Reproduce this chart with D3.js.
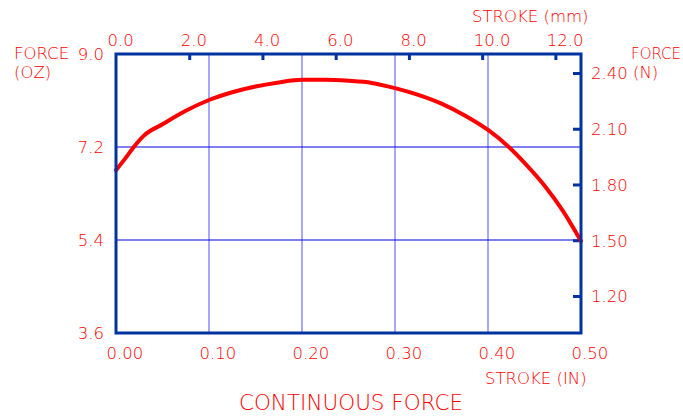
<!DOCTYPE html>
<html>
<head>
<meta charset="utf-8">
<script src="https://cdn.jsdelivr.net/npm/d3@7"></script>
<style>
  body { margin: 0; background: #fff; }
  text { font-family: "DejaVu Sans", sans-serif; font-weight: 200; fill: #ff0000; }
</style>
</head>
<body>
<div id="chart"></div>
<script>
// stroke (in) vs force (oz)
var strokeIn = [0.00, 0.01, 0.02, 0.03, 0.05, 0.075, 0.10, 0.125, 0.15, 0.175, 0.20, 0.225, 0.25,
                0.275, 0.30, 0.325, 0.35, 0.375, 0.40, 0.42, 0.44, 0.46, 0.48, 0.50];
var forceOz = [6.75, 6.98, 7.22, 7.42, 7.64, 7.90, 8.11, 8.26, 8.37, 8.45, 8.50, 8.50, 8.48,
               8.44, 8.34, 8.21, 8.04, 7.81, 7.53, 7.24, 6.88, 6.47, 5.98, 5.38];

var inTicks = [0.00, 0.10, 0.20, 0.30, 0.40, 0.50];
var mmTicks = [0, 2, 4, 6, 8, 10, 12];
var ozTicks = [3.6, 5.4, 7.2, 9.0];
var nTicks = [1.20, 1.50, 1.80, 2.10, 2.40];

var svgWidth = 683;
var svgHeight = 416;
var fontSize = "16.5px";

var margin = { top: 54, right: 102, bottom: 83, left: 116 };
var width = svgWidth - margin.left - margin.right;
var height = svgHeight - margin.top - margin.bottom;

var svg = d3.select("#chart")
    .append("svg")
    .attr("width", svgWidth)
    .attr("height", svgHeight);

var chartGroup = svg.append("g")
    .attr("transform", `translate(${margin.left}, ${margin.top})`);

var xScale = d3.scaleLinear().domain([0, 0.5]).range([0, width]);
var mmScale = d3.scaleLinear().domain([0, 12.7]).range([0, width]);
var yScale = d3.scaleLinear().domain([3.6, 9.0]).range([height, 0]);
// 1 oz = 0.2780139 N
var nScale = d3.scaleLinear().domain([3.6 * 0.2780139, 9.0 * 0.2780139]).range([height, 0]);

// grid lines
chartGroup.append("g")
    .selectAll("line")
    .data(inTicks.slice(1, -1))
    .enter().append("line")
    .attr("x1", d => xScale(d)).attr("x2", d => xScale(d))
    .attr("y1", 0).attr("y2", height)
    .attr("stroke", "#7878ff")
    .attr("stroke-width", 1.3);

chartGroup.append("g")
    .selectAll("line")
    .data(ozTicks.slice(1, -1))
    .enter().append("line")
    .attr("x1", 0).attr("x2", width)
    .attr("y1", d => yScale(d)).attr("y2", d => yScale(d))
    .attr("stroke", "#0000e6")
    .attr("stroke-width", 1.2);

// bottom axis (in)
var bottomAxis = d3.axisBottom(xScale).tickValues(inTicks).tickSize(0).tickFormat(d3.format(".2f"));
var xAxis = chartGroup.append("g")
    .attr("transform", `translate(0, ${height})`)
    .call(bottomAxis);
xAxis.select(".domain").remove();
xAxis.selectAll("text")
    .attr("text-anchor", "start")
    .attr("x", -10)
    .attr("y", 26)
    .attr("dy", 0)
    .style("font-size", fontSize);

// top axis (mm), short ticks pointing in
var topAxis = d3.axisTop(mmScale).tickValues(mmTicks).tickSize(-6).tickFormat(d3.format(".1f"));
var mmAxis = chartGroup.append("g").call(topAxis);
mmAxis.select(".domain").remove();
mmAxis.selectAll("line").attr("stroke", "#0033a0").attr("stroke-width", 3);
mmAxis.selectAll(".tick").filter(d => d === 0).select("line").remove();
mmAxis.selectAll("text")
    .attr("text-anchor", "start")
    .attr("x", -9)
    .attr("y", -8)
    .attr("dy", 0)
    .style("font-size", fontSize);

// left axis (oz)
var leftAxis = d3.axisLeft(yScale).tickValues(ozTicks).tickSize(0).tickFormat(d3.format(".1f"));
var yAxis = chartGroup.append("g").call(leftAxis);
yAxis.select(".domain").remove();
yAxis.selectAll("text")
    .attr("x", -12)
    .attr("dy", "0.35em")
    .style("font-size", fontSize);

// right axis (N)
var rightAxis = d3.axisRight(nScale).tickValues(nTicks).tickSize(-8).tickFormat(d3.format(".2f"));
var nAxis = chartGroup.append("g")
    .attr("transform", `translate(${width}, 0)`)
    .call(rightAxis);
nAxis.select(".domain").remove();
nAxis.selectAll("line").attr("stroke", "#0033a0").attr("stroke-width", 3);
nAxis.selectAll("text")
    .attr("x", 10)
    .attr("dy", "0.35em")
    .style("font-size", fontSize);

// force curve
var line = d3.line()
    .x((d, i) => xScale(strokeIn[i]))
    .y(d => yScale(d))
    .curve(d3.curveMonotoneX);

chartGroup.append("path")
    .datum(forceOz)
    .attr("d", line)
    .attr("fill", "none")
    .attr("stroke", "#ff0000")
    .attr("stroke-width", 4)
    .attr("stroke-linecap", "round");

// frame
chartGroup.append("rect")
    .attr("x", 0).attr("y", 0)
    .attr("width", width).attr("height", height)
    .attr("fill", "none")
    .attr("stroke", "#0033a0")
    .attr("stroke-width", 3);

// labels
svg.append("text").attr("x", 14).attr("y", 59).style("font-size", fontSize).text("FORCE");
svg.append("text").attr("x", 14).attr("y", 78).style("font-size", fontSize).text("(OZ)");
svg.append("text").attr("x", 631).attr("y", 59).style("font-size", "15px").text("FORCE");
svg.append("text").attr("x", 633).attr("y", 78).style("font-size", fontSize).text("(N)");
svg.append("text").attr("x", 472).attr("y", 22).style("font-size", fontSize).text("STROKE (mm)");
svg.append("text").attr("x", 485).attr("y", 384).style("font-size", fontSize).text("STROKE (IN)");
svg.append("text")
    .attr("x", 351).attr("y", 410)
    .attr("text-anchor", "middle")
    .style("font-size", "21.5px")
    .text("CONTINUOUS FORCE");
</script>
</body>
</html>
